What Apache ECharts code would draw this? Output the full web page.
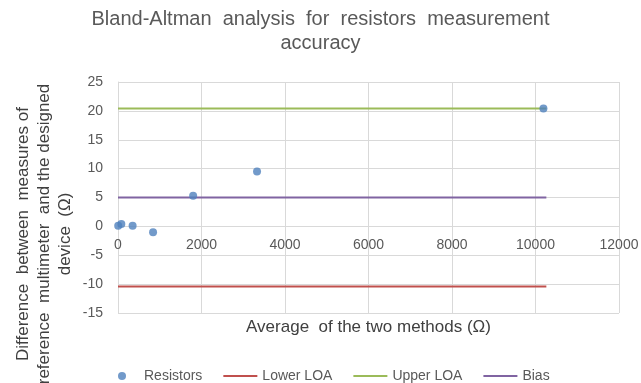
<!DOCTYPE html>
<html>
<head>
<meta charset="utf-8">
<title>Bland-Altman analysis</title>
<script src="https://cdn.jsdelivr.net/npm/echarts@6/dist/echarts.min.js"></script>
<style>
  html, body { margin: 0; padding: 0; background: #ffffff; }
  #chart { width: 641px; height: 383px; }
</style>
</head>
<body>
<div id="chart"></div>
<script>
// Data
const resistorAvg = [5, 80, 350, 840, 1800, 3330, 10190];
const resistorDiff = [0.1, 0.4, 0.1, -1.0, 5.3, 9.5, 20.4];
const limitX = [0, 10260];
const lowerLoa = [-10.4, -10.4];
const upperLoa = [20.4, 20.4];
const biasLine = [5.0, 5.0];
const xTicks = [0, 2000, 4000, 6000, 8000, 10000, 12000];
const yTicks = [-15, -10, -5, 0, 5, 10, 15, 20, 25];

const seriesNames = ['Resistors', 'Lower LOA', 'Upper LOA', 'Bias'];
const seriesColors = ['#4F81BD', '#C0504D', '#9BBB59', '#8064A2'];

// Utility: pair x and y arrays
function pairs(xs, ys) {
    return xs.map((x, i) => [x, ys[i]]);
}

const GRID_COLOR = '#D9D9D9';
const TEXT_COLOR = '#595959';
const FONT = '"Liberation Sans", Arial, sans-serif';
// thin bar used as legend icon for the lines
const LINE_ICON = 'path://M0,0 L38,0 L38,2 L0,2 Z';

const chart = echarts.init(document.getElementById('chart'), null, { renderer: 'canvas' });

chart.setOption({
    backgroundColor: '#ffffff',
    animation: false,
    title: {
        text: 'Bland-Altman  analysis  for  resistors  measurement\naccuracy',
        left: 'center',
        top: 2,
        textStyle: {
            fontFamily: FONT,
            fontSize: 20,
            fontWeight: 'normal',
            color: TEXT_COLOR,
            lineHeight: 24
        }
    },
    grid: { left: 118, right: 22, top: 82, bottom: 70, containLabel: false, outerBoundsMode: 'none' },
    legend: {
        data: seriesNames.map((n, i) => ({
            name: n,
            icon: i === 0 ? 'circle' : LINE_ICON,
            itemStyle: { color: seriesColors[i] }
        })),
        left: 113,
        top: 364,
        itemWidth: 34,
        itemHeight: 8,
        itemGap: 21,
        textStyle: { fontFamily: FONT, fontSize: 14, color: TEXT_COLOR }
    },
    xAxis: {
        type: 'value',
        min: xTicks[0],
        max: xTicks[xTicks.length - 1],
        interval: 2000,
        name: 'Average  of the two methods (Ω)',
        nameLocation: 'middle',
        nameGap: 6,
        nameMoveOverlap: false,
        nameTextStyle: { fontFamily: FONT, fontSize: 17, color: '#404040' },
        axisLine: { lineStyle: { color: GRID_COLOR, width: 1 } },
        axisTick: { show: false },
        // Excel puts the tick labels at the zero line: pull them up from the bottom
        axisLabel: {
            margin: -75,
            fontFamily: FONT,
            fontSize: 14,
            color: TEXT_COLOR,
            formatter: v => String(v)
        },
        splitLine: { show: true, lineStyle: { color: GRID_COLOR, width: 1 } }
    },
    yAxis: {
        type: 'value',
        min: yTicks[0],
        max: yTicks[yTicks.length - 1],
        interval: 5,
        axisLine: { show: true, onZero: false, lineStyle: { color: GRID_COLOR, width: 1 } },
        axisTick: { show: false },
        axisLabel: { margin: 15, fontFamily: FONT, fontSize: 14, color: TEXT_COLOR },
        splitLine: { show: true, lineStyle: { color: GRID_COLOR, width: 1 } }
    },
    graphic: [{
        type: 'text',
        x: 44,
        y: 234,
        rotation: Math.PI / 2,
        style: {
            text: 'Difference  between  measures of\nreference  multimeter  and the designed\ndevice  (Ω)',
            fontFamily: FONT,
            fontSize: 17,
            lineHeight: 21,
            fill: '#404040',
            align: 'center',
            verticalAlign: 'middle'
        }
    }],
    series: [
        {
            name: seriesNames[0],
            type: 'scatter',
            symbol: 'circle',
            symbolSize: 8,
            itemStyle: { color: seriesColors[0] },
            data: pairs(resistorAvg, resistorDiff),
            z: 5
        },
        {
            name: seriesNames[1],
            type: 'line',
            symbol: 'none',
            lineStyle: { color: seriesColors[1], width: 2 },
            itemStyle: { color: seriesColors[1] },
            data: pairs(limitX, lowerLoa)
        },
        {
            name: seriesNames[2],
            type: 'line',
            symbol: 'none',
            lineStyle: { color: seriesColors[2], width: 2 },
            itemStyle: { color: seriesColors[2] },
            data: pairs(limitX, upperLoa)
        },
        {
            name: seriesNames[3],
            type: 'line',
            symbol: 'none',
            lineStyle: { color: seriesColors[3], width: 2 },
            itemStyle: { color: seriesColors[3] },
            data: pairs(limitX, biasLine)
        }
    ]
});
</script>
</body>
</html>
